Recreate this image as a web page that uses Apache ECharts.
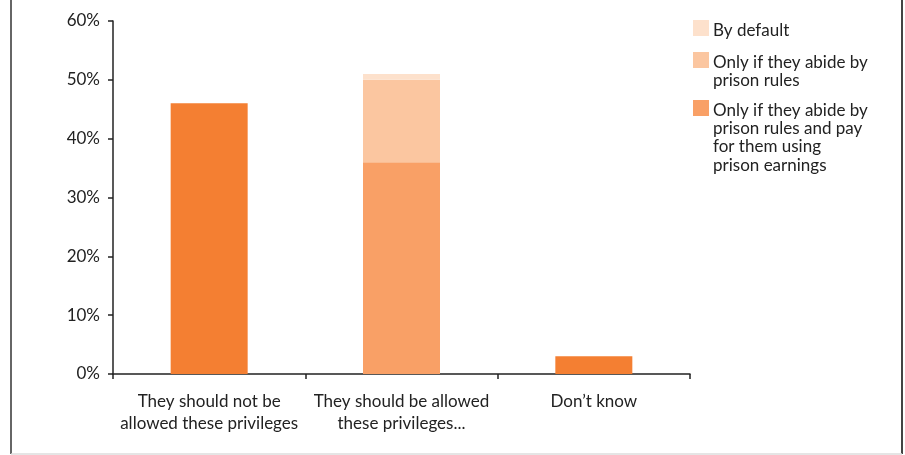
<!DOCTYPE html>
<html><head><meta charset="utf-8">
<script src="https://cdn.jsdelivr.net/npm/echarts@6/dist/echarts.min.js"></script>
<style>html,body{margin:0;padding:0;background:#fff}#c{width:905px;height:455px}</style>
</head><body><div id="c"></div>
<script>
const categories = ['They should not be\nallowed these privileges', 'They should be allowed\nthese privileges...', 'Don\u2019t know'];
const yTicks = [0, 10, 20, 30, 40, 50, 60];
const mainValues = [46, null, 3];
const payValues = [null, 36, null];
const rulesValues = [null, 14, null];
const defaultValues = [null, 1, null];
const legendNames = ['By default', 'Only if they abide by\nprison rules', 'Only if they abide by\nprison rules and pay\nfor them using\nprison earnings'];
const colors = { main: '#F47F32', pay: '#F9A066', rules: '#FBC6A0', def: '#FDE1CC' };

const FONT = 'Lato';
const chart = echarts.init(document.getElementById('c'));
const legendColors = [colors.def, colors.rules, colors.pay];
const legendY = [20, 52, 100];
const graphic = [
  { type: 'line', shape: { x1: 11, y1: 0, x2: 11, y2: 454 }, style: { stroke: '#333', lineWidth: 1.5 } },
  { type: 'line', shape: { x1: 902, y1: 0, x2: 902, y2: 454 }, style: { stroke: '#444', lineWidth: 2 } },
  { type: 'line', shape: { x1: 11, y1: 454, x2: 902, y2: 454 }, style: { stroke: '#ddd', lineWidth: 1.5 } }
];
legendNames.forEach((n, i) => {
  graphic.push({ type: 'rect', shape: { x: 693, y: legendY[i], width: 16, height: 16 }, style: { fill: legendColors[i] } });
  graphic.push({ type: 'text', x: 713, y: legendY[i] + 1, style: { text: n, font: '17px ' + FONT, fill: '#222', lineHeight: 18.4, textVerticalAlign: 'top' } });
});

chart.setOption({
  animation: false,
  backgroundColor: '#fff',
  grid: { left: 113, right: 215, top: 21, bottom: 81 },
  xAxis: {
    type: 'category', data: categories,
    axisLine: { lineStyle: { color: '#222', width: 1.5 } },
    axisTick: { show: true, length: 5, lineStyle: { color: '#222', width: 1.5 } },
    axisLabel: { interval: 0, fontFamily: FONT, fontSize: 17, color: '#222', lineHeight: 22, margin: 17 }
  },
  yAxis: {
    type: 'value', min: 0, max: 60, interval: 10,
    axisLine: { show: true, lineStyle: { color: '#222', width: 1.5 } },
    axisTick: { show: true, length: 5, lineStyle: { color: '#222', width: 1.5 } },
    splitLine: { show: false },
    axisLabel: { fontFamily: FONT, fontSize: 17, color: '#222', margin: 13, formatter: v => v + '%' }
  },
  series: [
    { name: 'main', type: 'bar', stack: 's', data: mainValues, barWidth: 77, itemStyle: { color: colors.main } },
    { name: legendNames[2], type: 'bar', stack: 's', data: payValues, barWidth: 77, itemStyle: { color: colors.pay } },
    { name: legendNames[1], type: 'bar', stack: 's', data: rulesValues, barWidth: 77, itemStyle: { color: colors.rules } },
    { name: legendNames[0], type: 'bar', stack: 's', data: defaultValues, barWidth: 77, itemStyle: { color: colors.def } }
  ],
  graphic: graphic
});
</script></body></html>
